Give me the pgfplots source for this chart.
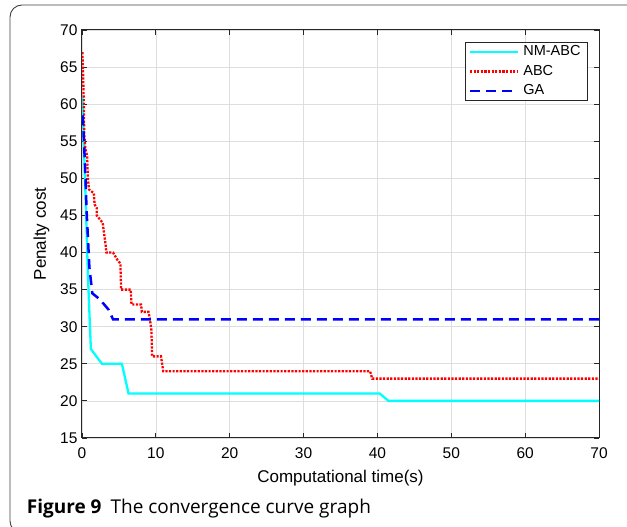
\documentclass[border=0pt]{standalone}
\usepackage{pgfplots}
\pgfplotsset{compat=1.18}
\usepackage{fontspec}
\setmainfont{Liberation Sans}
\newfontfamily\capfont{Open Sans}

\definecolor{axcol}{rgb}{0.15,0.15,0.15}
\definecolor{gridcol}{rgb}{0.87,0.87,0.87}
\definecolor{framecol}{rgb}{0.25,0.25,0.25}
\definecolor{nmcol}{rgb}{0,1,1}
\definecolor{abccol}{rgb}{1,0,0}
\definecolor{gacol}{rgb}{0,0,1}

\begin{document}
\begin{tikzpicture}
\begin{axis}[
  width=517pt, height=408pt,
  scale only axis,
  xmin=0, xmax=70, ymin=15, ymax=70,
  xtick={0,10,...,70},
  ytick={15,20,...,70},
  /pgf/number format/assume math mode=true,
  tick label style={font=\fontsize{15.5}{18}\selectfont},
  xticklabel shift=6.5pt,
  yticklabel shift=1pt,
  label style={font=\fontsize{17}{20}\selectfont},
  xlabel={Computational time(s)},
  ylabel={Penalty cost},
  xlabel style={at={(axis description cs:0.5,0)}, anchor=base, yshift=-44.7pt},
  ylabel style={at={(axis description cs:-0.0783,0.5)}, anchor=center},
  axis line style={draw=axcol, line width=1pt},
  major tick style={draw=axcol, line width=0.8pt},
  major tick length=5pt,
  tick align=inside,
  grid=major,
  grid style={draw=gridcol, line width=0.7pt},
  legend image code/.code={\draw[#1] (0pt,0pt) -- (48pt,0pt);},
  legend cell align=left,
  legend style={
    at={(0.9787,0.9713)}, anchor=north east,
    draw=axcol, line width=0.9pt,
    font=\fontsize{14.5}{16}\selectfont,
    inner xsep=3pt, inner ysep=3pt,
    row sep=6.3pt,
    nodes={inner xsep=4pt, inner ysep=0pt, text height=10.3pt, text depth=3pt},
  },
]
\addplot[color=nmcol, line width=2.3pt] coordinates {
  (0.05,61) (0.5,47) (0.8,37) (1.2,27) (2.7,25) (5.4,25) (6.3,21)
  (40.3,21) (41.5,20) (70,20)
};
\addlegendentry{NM-ABC}
\addplot[color=abccol, line width=2.3pt, dash pattern=on 2.2pt off 1.4pt] coordinates {
  (0.05,67) (0.15,64) (0.25,60) (0.3,56) (0.45,54) (0.7,53) (0.8,50)
  (0.95,48.5) (1.6,48) (1.7,46.5) (2.0,46) (2.0,45) (2.4,44.5) (2.8,44)
  (3.0,42.5) (3.2,41) (3.3,40) (4.2,40) (4.5,39.5) (4.8,39) (5.2,38.5)
  (5.3,35) (6.6,35) (6.7,33) (8.0,33) (8.1,32) (9.0,32) (9.2,31)
  (9.4,29.5) (9.5,26) (10.7,26) (11.0,24) (39,24) (39.3,23) (70,23)
};
\addlegendentry{ABC}
\addplot[color=gacol, line width=2.5pt, dash pattern=on 10pt off 6pt] coordinates {
  (0.1,58.5) (0.4,52) (0.63,45.5) (1.0,38) (1.4,34.5) (2.4,33.7)
  (3.6,32.3) (4.2,31) (70,31)
};
\addlegendentry{GA}
\end{axis}
\useasboundingbox ([xshift=-82pt,yshift=-89pt]current axis.south west)
  rectangle ([xshift=28pt,yshift=30pt]current axis.north east);
\draw[framecol, line width=0.9pt, rounded corners=12pt]
  ([xshift=40pt,yshift=25pt]current axis.north east)
  -- ([xshift=-72pt,yshift=25pt]current axis.north west)
  -- ([xshift=-72pt,yshift=-95pt]current axis.south west)
  -- ++(40pt,0);
\node[anchor=base west, inner sep=0pt, font=\capfont\fontsize{19}{22}\selectfont]
  at ([xshift=-55.3pt,yshift=-76pt]current axis.south west)
  {\textbf{Figure 9}\hspace{9pt}The convergence curve graph};
\end{tikzpicture}
\end{document}
